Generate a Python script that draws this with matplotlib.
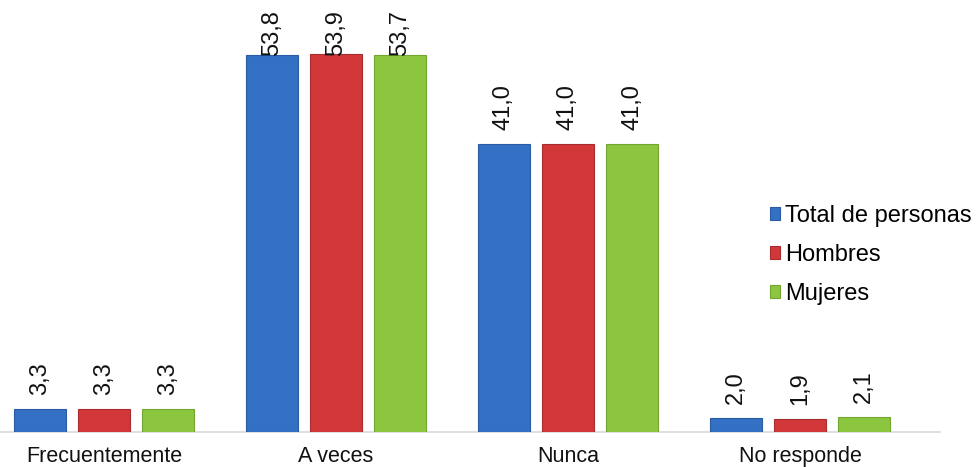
import matplotlib
matplotlib.use('Agg')
import matplotlib.pyplot as plt
import numpy as np

plt.rcParams['font.family'] = ['Liberation Sans', 'DejaVu Sans']

# Data
categories = ['Frecuentemente', 'A veces', 'Nunca', 'No responde']
series = ['Total de personas', 'Hombres', 'Mujeres']
total = [3.3, 53.8, 41.0, 2.0]
hombres = [3.3, 53.9, 41.0, 1.9]
mujeres = [3.3, 53.7, 41.0, 2.1]
colors = ['#3470c4', '#d2383a', '#8cc63f']
edges = ['#2a5ca3', '#a82c2e', '#72a532']

fig = plt.figure(figsize = (9.78, 4.67), dpi = 100)
ax = fig.add_axes([0.0, 35 / 467, 940 / 978, 432 / 467])

x = np.arange(len(categories))
width = 0.224
step = 0.276
ymax = 61.6

for i, (vals, name) in enumerate(zip([total, hombres, mujeres], series)):
    pos = x + (i - 1) * step
    ax.bar(pos, vals, width, color = colors[i], edgecolor = edges[i],
           linewidth = 0.8, label = name, zorder = 3)
    for px, v in zip(pos, vals):
        y = min(v + 2.0, ymax - 8.0)
        ax.text(px, y, f'{v:.1f}'.replace('.', ','), rotation = 90,
                ha = 'center', va = 'bottom', fontsize = 17, color = '#111111',
                zorder = 4)

ax.set_xlim(-104 / 232, 3 + 140 / 232)
ax.set_ylim(0, ymax)
ax.set_xticks(x)
ax.set_xticklabels(categories, fontsize = 15.5, color = '#111111')
ax.tick_params(axis = 'x', length = 0, pad = 10)
ax.set_yticks([])
for side in ['top', 'right', 'left']:
    ax.spines[side].set_visible(False)
ax.spines['bottom'].set_color('#d9d9d9')
ax.spines['bottom'].set_linewidth(1.2)

fig.legend(loc = 'upper left', bbox_to_anchor = (770 / 978, 1 - 205 / 467),
           frameon = False, fontsize = 17, handlelength = 0.42,
           handleheight = 0.42, handletextpad = 0.2, labelspacing = 0.72,
           borderpad = 0, borderaxespad = 0)

fig.savefig('out.png', dpi = 100)
